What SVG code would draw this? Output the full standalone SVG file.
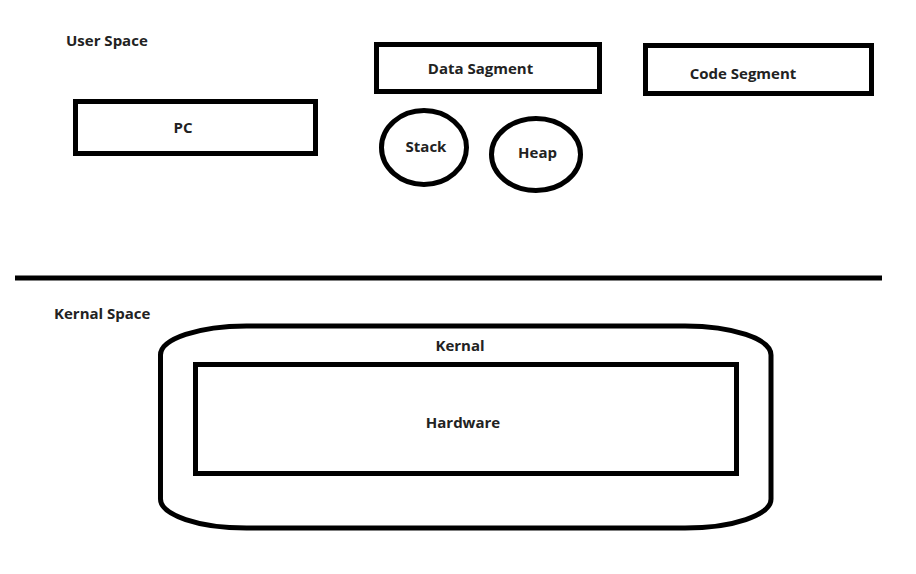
<svg xmlns="http://www.w3.org/2000/svg" width="916" height="574" viewBox="0 0 916 574">
<style>
.s{fill:none;stroke:#000;stroke-width:5}
.t{font-family:"Open Sans","Liberation Sans",sans-serif;font-weight:bold;font-size:15px;fill:#222}
.c{text-anchor:middle}
</style>
<rect width="916" height="574" fill="#fff"/>
<g id="labels">
<text class="t" x="66" y="46">User Space</text>
<text class="t" x="54" y="319">Kernal Space</text>
</g>
<g id="divider">
<line class="s" x1="15" y1="278" x2="882" y2="278"/>
</g>
<g id="pc">
<rect class="s" x="75.5" y="101.5" width="240" height="52"/>
<text class="t c" x="183" y="133">PC</text>
</g>
<g id="data-segment">
<rect class="s" x="376.5" y="44.5" width="223" height="47"/>
<text class="t c" x="480.5" y="74">Data Sagment</text>
</g>
<g id="code-segment">
<rect class="s" x="645.5" y="45.5" width="226" height="48"/>
<text class="t c" x="743" y="79">Code Segment</text>
</g>
<g id="stack">
<ellipse class="s" cx="424" cy="147.5" rx="42.5" ry="37"/>
<text class="t c" x="426" y="152">Stack</text>
</g>
<g id="heap">
<ellipse class="s" cx="536" cy="154.5" rx="44.5" ry="36"/>
<text class="t c" x="537.5" y="158">Heap</text>
</g>
<g id="kernal">
<rect class="s" x="160.5" y="326" width="610.5" height="202" rx="86" ry="29"/>
<text class="t c" x="460" y="351">Kernal</text>
</g>
<g id="hardware">
<rect class="s" x="195.5" y="364.5" width="541" height="109"/>
<text class="t c" x="463" y="428">Hardware</text>
</g>
<g id="connectors"/>
</svg>
